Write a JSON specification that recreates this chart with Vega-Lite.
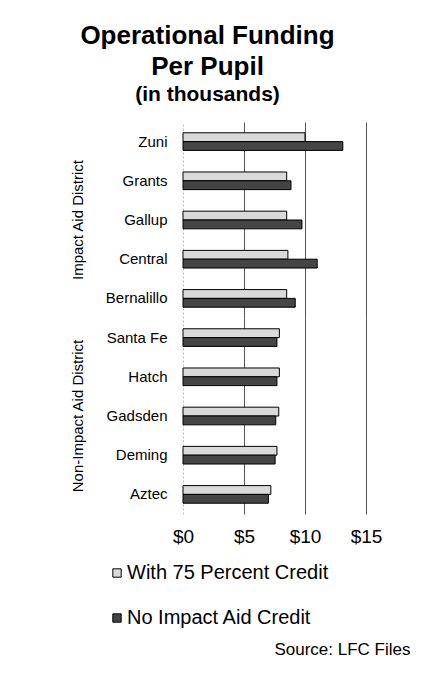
{
  "$schema": "https://vega.github.io/schema/vega-lite/v6.json",
  "padding": {"left": 70, "top": 23, "right": 5, "bottom": 5},
  "background": "white",
  "title": {
    "text": ["Operational Funding", "Per Pupil"],
    "subtitle": "(in thousands)",
    "fontSize": 26,
    "fontWeight": "bold",
    "lineHeight": 31,
    "subtitleFontSize": 21,
    "subtitleFontWeight": "bold",
    "subtitlePadding": 4,
    "subtitleColor": "black",
    "color": "black",
    "anchor": "middle",
    "dx": -33,
    "offset": 17
  },
  "data": {
    "values": [
      {"district": "Zuni", "group": "Impact Aid District", "series": "With 75 Percent Credit", "value": 10.0},
      {"district": "Zuni", "group": "Impact Aid District", "series": "No Impact Aid Credit", "value": 13.1},
      {"district": "Grants", "group": "Impact Aid District", "series": "With 75 Percent Credit", "value": 8.5},
      {"district": "Grants", "group": "Impact Aid District", "series": "No Impact Aid Credit", "value": 8.85},
      {"district": "Gallup", "group": "Impact Aid District", "series": "With 75 Percent Credit", "value": 8.5},
      {"district": "Gallup", "group": "Impact Aid District", "series": "No Impact Aid Credit", "value": 9.75},
      {"district": "Central", "group": "Impact Aid District", "series": "With 75 Percent Credit", "value": 8.6},
      {"district": "Central", "group": "Impact Aid District", "series": "No Impact Aid Credit", "value": 11.0},
      {"district": "Bernalillo", "group": "Impact Aid District", "series": "With 75 Percent Credit", "value": 8.5},
      {"district": "Bernalillo", "group": "Impact Aid District", "series": "No Impact Aid Credit", "value": 9.2},
      {"district": "Santa Fe", "group": "Non-Impact Aid District", "series": "With 75 Percent Credit", "value": 7.9},
      {"district": "Santa Fe", "group": "Non-Impact Aid District", "series": "No Impact Aid Credit", "value": 7.7},
      {"district": "Hatch", "group": "Non-Impact Aid District", "series": "With 75 Percent Credit", "value": 7.9},
      {"district": "Hatch", "group": "Non-Impact Aid District", "series": "No Impact Aid Credit", "value": 7.7},
      {"district": "Gadsden", "group": "Non-Impact Aid District", "series": "With 75 Percent Credit", "value": 7.85},
      {"district": "Gadsden", "group": "Non-Impact Aid District", "series": "No Impact Aid Credit", "value": 7.6},
      {"district": "Deming", "group": "Non-Impact Aid District", "series": "With 75 Percent Credit", "value": 7.7},
      {"district": "Deming", "group": "Non-Impact Aid District", "series": "No Impact Aid Credit", "value": 7.55},
      {"district": "Aztec", "group": "Non-Impact Aid District", "series": "With 75 Percent Credit", "value": 7.2},
      {"district": "Aztec", "group": "Non-Impact Aid District", "series": "No Impact Aid Credit", "value": 7.0}
    ]
  },
  "facet": {
    "row": {
      "field": "group",
      "type": "nominal",
      "sort": ["Impact Aid District", "Non-Impact Aid District"],
      "header": {
        "title": null,
        "labelAngle": -90,
        "labelFontSize": 15,
        "labelColor": "black",
        "labelPadding": 12
      }
    }
  },
  "spacing": 0,
  "resolve": {"scale": {"y": "independent", "yOffset": "independent"}},
  "spec": {
    "width": 183,
    "height": 196,
    "mark": {"type": "bar", "stroke": "black", "strokeWidth": 1},
    "encoding": {
      "y": {
        "field": "district",
        "type": "nominal",
        "sort": ["Zuni", "Grants", "Gallup", "Central", "Bernalillo", "Santa Fe", "Hatch", "Gadsden", "Deming", "Aztec"],
        "title": null,
        "scale": {"paddingInner": 0.55, "paddingOuter": 0.275},
        "axis": {"domain": false, "ticks": false, "labelFontSize": 15, "labelColor": "black", "labelPadding": 16}
      },
      "yOffset": {
        "field": "series",
        "type": "nominal",
        "sort": ["With 75 Percent Credit", "No Impact Aid Credit"],
        "scale": {"paddingInner": 0, "paddingOuter": 0}
      },
      "x": {
        "field": "value",
        "type": "quantitative",
        "scale": {"domain": [0, 15]},
        "axis": {
          "values": [0, 5, 10, 15],
          "labelExpr": "'$' + datum.value",
          "labelFlush": false,
          "grid": true,
          "gridColor": {"condition": {"test": "datum.value === 0", "value": "#bbbbbb"}, "value": "#555555"},
          "gridDash": {"condition": {"test": "datum.value === 0", "value": [2, 2]}, "value": []},
          "domain": false,
          "ticks": false,
          "labelFontSize": 19,
          "labelPadding": 13,
          "labelColor": "black",
          "title": "Source: LFC Files",
          "titleFontSize": 17,
          "titleFontWeight": "normal",
          "titleColor": "black",
          "titleAnchor": "end",
          "titleAlign": "right",
          "titleX": 227,
          "titleY": 140,
          "titleBaseline": "alphabetic"
        }
      },
      "color": {
        "field": "series",
        "type": "nominal",
        "scale": {"domain": ["With 75 Percent Credit", "No Impact Aid Credit"], "range": ["#d9d9d9", "#454545"]},
        "legend": {
          "title": null,
          "orient": "none",
          "legendX": -76,
          "legendY": 441,
          "direction": "vertical",
          "symbolType": "square",
          "symbolSize": 70,
          "symbolStrokeColor": "black",
          "symbolStrokeWidth": 1,
          "labelFontSize": 20,
          "labelColor": "black",
          "labelOffset": 0,
          "labelLimit": 320,
          "rowPadding": 25
        }
      }
    }
  },
  "config": {
    "view": {"stroke": null},
    "font": "Liberation Sans"
  }
}
